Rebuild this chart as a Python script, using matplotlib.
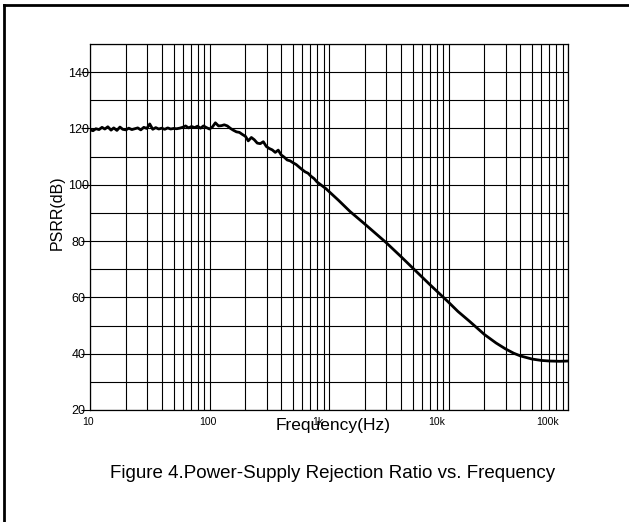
import numpy as np
import matplotlib
matplotlib.use('Agg')
import matplotlib.pyplot as plt
import matplotlib.transforms as mtransforms
from matplotlib.lines import Line2D

plt.rcParams['font.family'] = ['Liberation Sans', 'DejaVu Sans']

# данные кривой PSRR
freq = [10, 10.6, 11.2, 11.9, 12.6, 13.3, 14.1, 15.0, 15.8, 16.8, 17.8, 18.8,
        20.0, 21.1, 22.4, 23.7, 25.1, 26.6, 28.2, 29.9, 31.6, 33.5, 35.5, 37.6,
        39.8, 42.2, 44.7, 47.3, 50.1, 53.1, 56.2, 59.6, 63.1, 66.8, 70.8, 75.0,
        79.4, 84.1, 89.1, 94.4, 100, 106, 112, 119, 126, 133, 141, 150, 158,
        168, 178, 188, 200, 211, 224, 237, 251, 266, 282, 299, 316, 335, 355,
        376, 398, 422, 447, 473, 501, 531, 562, 596, 631, 668, 708, 750, 794,
        841, 891, 944, 1000, 1200, 1500, 2000, 3000, 4000, 5000, 7000, 10000,
        12000, 15000, 20000, 25000, 30000, 35000, 40000, 50000, 60000, 70000,
        85000, 100000]
psrr = [119.5, 119.2, 119.9, 119.6, 120.4, 119.8, 120.6, 119.4, 120.2, 119.3,
        120.5, 119.7, 119.5, 120.1, 119.6, 119.9, 120.2, 119.5, 120.4, 120.0,
        121.6, 119.7, 120.3, 119.8, 120.1, 119.7, 120.2, 119.8, 120.0, 119.9,
        120.1, 120.4, 120.9, 120.2, 120.7, 120.3, 120.8, 120.1, 120.9, 120.3,
        119.8, 120.6, 122.0, 120.9, 121.0, 121.3, 120.9, 120.0, 119.4, 118.8,
        118.6, 117.9, 117.2, 115.6, 116.8, 116.0, 114.8, 114.6, 115.3, 113.6,
        112.9, 112.4, 111.5, 112.3, 110.6, 109.8, 108.8, 108.5, 107.8, 107.2,
        106.3, 105.4, 104.6, 104.1, 103.0, 102.2, 101.0, 100.2, 99.4, 98.6,
        97.6, 94.5, 90.5, 86.0, 79.5, 74.5, 70.5, 64.5, 58.3, 55.0, 51.5, 46.8,
        43.8, 41.7, 40.2, 39.2, 38.1, 37.6, 37.4, 37.3, 37.4]

xticks = [10, 100, 1000, 10000, 100000]
xticklabels = ['10', '100', '1k', '10k', '100k']
yticks = [20, 40, 60, 80, 100, 120, 140]

fig = plt.figure(figsize=(6.29, 5.22), dpi=100)
ax = fig.add_axes([90 / 629, 112 / 522, 478 / 629, 366 / 522])

ax.plot(freq, psrr, color='black', linewidth=2.0)

ax.set_xscale('log')
ax.set_xlim(10, 100000)
ax.set_ylim(20, 150)

# сетка: все линии одинаковые
ax.set_xticks(xticks)
ax.set_xticklabels(xticklabels, fontsize=7.5)
ax.xaxis.set_minor_locator(matplotlib.ticker.LogLocator(base=10, subs=np.arange(2, 10)))
ax.xaxis.set_minor_formatter(matplotlib.ticker.NullFormatter())
ax.set_yticks(yticks)
ax.set_yticks(np.arange(30, 151, 20), minor=True)
ax.grid(True, which='both', color='black', linewidth=0.8)
ax.set_axisbelow(True)

ax.tick_params(axis='x', which='both', length=0, pad=5)
ax.tick_params(axis='y', which='major', length=6.5, width=0.8, direction='out', pad=2, labelsize=9)
ax.tick_params(axis='y', which='minor', length=0)
for lab in ax.get_yticklabels():
    lab.set_horizontalalignment('center')

# подписи по оси X немного сдвинуты влево, как в оригинале
shifts = [-2, -2, -11, -12, -20]
for lab, dx in zip(ax.get_xticklabels(), shifts):
    lab.set_transform(lab.get_transform() + mtransforms.ScaledTranslation(dx / 100, 0, fig.dpi_scale_trans))

for s in ax.spines.values():
    s.set_linewidth(0.9)
    s.set_color('black')

ax.set_xlabel('Frequency(Hz)', fontsize=12.5)
ax.xaxis.set_label_coords((333.5 - 90) / 478, -8 / 366)
ax.xaxis.label.set_verticalalignment('top')
ax.set_ylabel('PSRR(dB)', fontsize=11.5)
ax.yaxis.set_label_coords((65 - 90) / 478, (410 - 213) / 366)

fig.text(332.5 / 629, (522 - 474) / 522, 'Figure 4.Power-Supply Rejection Ratio vs. Frequency',
         fontsize=13.5, ha='center', va='center')

# рамка вокруг рисунка (видны только левая и верхняя стороны)
fig.add_artist(Line2D([4 / 629, 4 / 629], [0, 1 - 5 / 522], color='black', linewidth=2.0,
                      transform=fig.transFigure))
fig.add_artist(Line2D([4 / 629, 1], [1 - 5 / 522, 1 - 5 / 522], color='black', linewidth=2.0,
                      transform=fig.transFigure))

fig.savefig('out.png', dpi=100)
